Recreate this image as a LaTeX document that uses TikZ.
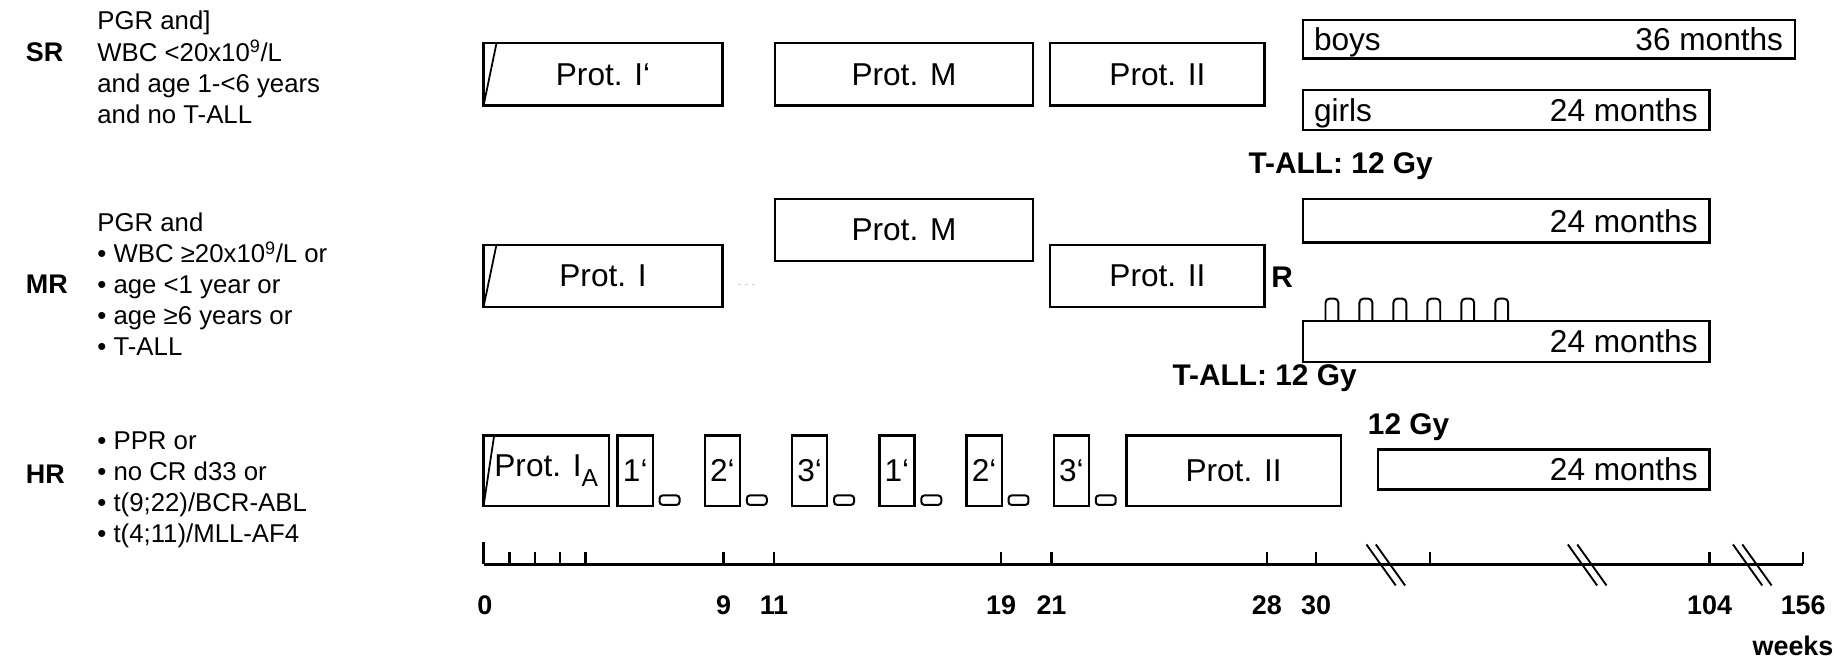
\documentclass[tikz,border=0pt]{standalone}
\usepackage{fontspec}
\setmainfont{Liberation Sans}
\usetikzlibrary{positioning}

\tikzset{
  protbox/.style={draw, line width=2pt, inner sep=0pt, outer sep=0pt, font=\fontsize{27}{30}\selectfont},
  durlab/.style={inner sep=0pt, text height=19.5pt, text depth=0pt, font=\fontsize{27}{30}\selectfont},
  pill/.style={draw, line width=1.7pt, rounded corners=2.5pt, minimum width=17pt, minimum height=8pt, inner sep=0pt},
  crit/.style={align=left, anchor=west, inner sep=0pt, font=\fontsize{22}{26.5}\selectfont},
  risk/.style={anchor=west, inner sep=0pt, font=\fontsize{23}{26}\selectfont\bfseries},
  dose/.style={inner sep=0pt, font=\fontsize{25.5}{28}\selectfont\bfseries},
  wk/.style={inner sep=0pt, font=\fontsize{23}{26}\selectfont\bfseries},
  axis/.style={line width=2pt},
}

\begin{document}
\begin{tikzpicture}[x=1pt, y=-1pt]
    \useasboundingbox (0,0) rectangle (1568,568);

    % Risk groups
    \node[risk] (sr) at (22,45) {SR};
    \node[crit] (srtext) at (83,57.5) {PGR and]\\WBC <20x10\textsuperscript{9}/L\\and age 1-<6 years\\and no T-ALL};
    \node[risk] (mr) at (22,243) {MR};
    \node[crit] (mrtext) at (83,243) {PGR and\\\textbullet\ WBC ≥20x10\textsuperscript{9}/L or\\\textbullet\ age <1 year or\\\textbullet\ age ≥6 years or\\\textbullet\ T-ALL};
    \node[risk] (hr) at (22,405) {HR};
    \node[crit] (hrtext) at (83,418) {\textbullet\ PPR or\\\textbullet\ no CR d33 or\\\textbullet\ t(9;22)/BCR-ABL\\\textbullet\ t(4;11)/MLL-AF4};

    % SR arm
    \node[protbox, minimum width=204pt, minimum height=53pt] (srI) at (515,63.5) {Prot. I‘};
    \node[protbox, minimum width=220pt, minimum height=53pt] (srM) at (772,63.5) {Prot. M};
    \node[protbox, minimum width=183pt, minimum height=53pt] (srII) at (988.5,63.5) {Prot. II};
    \node[protbox, minimum width=420pt, minimum height=33pt] (boys) at (1323,33.5) {};
    \node[durlab, anchor=west] (boyslab) at ([xshift=9pt]boys.west) {boys};
    \node[durlab, anchor=east] (boysdur) at ([xshift=-10pt]boys.east) {36 months};
    \node[protbox, minimum width=347pt, minimum height=34pt] (girls) at (1286.5,94) {};
    \node[durlab, anchor=west] (girlslab) at ([xshift=9pt]girls.west) {girls};
    \node[durlab, anchor=east] (girlsdur) at ([xshift=-10pt]girls.east) {24 months};
    \node[dose] (srrt) at (1145,142) {T-ALL: 12 Gy};

    % MR arm
    \node[protbox, minimum width=220pt, minimum height=53pt] (mrM) at (772,196.5) {Prot. M};
    \node[protbox, minimum width=204pt, minimum height=53pt] (mrI) at (515,235.5) {Prot. I};
    \node[protbox, minimum width=183pt, minimum height=53pt] (mrII) at (988.5,235.5) {Prot. II};
    \node[dose] (rand) at (1095,237) {R};
    \node[protbox, minimum width=347pt, minimum height=37pt] (mrA) at (1286.5,188.5) {};
    \node[durlab, anchor=east] (mrAdur) at ([xshift=-10pt]mrA.east) {24 months};
    \node[protbox, minimum width=347pt, minimum height=35pt] (mrB) at (1286.5,291.5) {};
    \node[durlab, anchor=east] (mrBdur) at ([xshift=-10pt]mrB.east) {24 months};
    \node[dose] (mrrt) at (1080,323) {T-ALL: 12 Gy};

    % HR arm
    \node[protbox, minimum width=107pt, minimum height=60pt] (hrI) at (466.5,402) {Prot. I\raisebox{-0.3em}{\fontsize{21}{21}\selectfont A}};
    \foreach \b [count=\i from 0] in {1,2,3,1,2,3} {
        \node[protbox, minimum width=30pt, minimum height=60pt] (hrb\i) at (542.5+74.5*\i,402) {\b‘};
        \node[pill, anchor=south west] (hrp\i) at ([xshift=5pt]hrb\i.south east) {};
    }
    \node[protbox, minimum width=183pt, minimum height=60pt] (hrII) at (1053.5,402) {Prot. II};
    \node[dose] (hrrt) at (1203,365) {12 Gy};
    \node[protbox, minimum width=283pt, minimum height=34pt] (hrC) at (1318.5,401) {};
    \node[durlab, anchor=east] (hrCdur) at ([xshift=-10pt]hrC.east) {24 months};

    % Lines
    \draw[line width=1.5pt] ([xshift=11pt]srI.north west) -- (srI.south west);
    \draw[line width=1.5pt] ([xshift=11pt]mrI.north west) -- (mrI.south west);
    \draw[line width=1.5pt] ([xshift=9pt]hrI.north west) -- (hrI.south west);
    \draw[gray!40, dashed, line width=0.8pt] (630,243) -- (648,243);
    \foreach \i in {0,...,5}
        \draw[line width=1.7pt, rounded corners=3.5pt] ([xshift={(19+29*\i)*1pt}]mrB.north west) -- ++(0,-19) -- ++(11,0) -- ++(0,19);

    % Time axis
    \coordinate (ax0) at (413,482);
    \coordinate (ax1) at (1540,482);
    \draw[axis] (ax0) -- (ax1);
    \draw[axis] (ax0) -- ++(0,-19);
    \node[wk] (w0) at (414,517) {0};
    \foreach \x in {435,457,478,500,1221}
        \draw[axis] (\x,482) -- ++(0,-11);
    \foreach \x/\w in {618/9, 661/11, 855/19, 898/21, 1082/28, 1124/30, 1460/104, 1540/156} {
        \draw[axis] (\x,482) -- ++(0,-11);
        \node[wk] (w\w) at (\x,517) {\w};
    }
    \foreach \x in {1184,1356,1497} {
        \draw[line width=1.6pt] (\x-17,465) -- (\x+8,500);
        \draw[line width=1.6pt] (\x-9,465) -- (\x+16,500);
    }
    \node[wk, anchor=east] (weeks) at (1566,552) {weeks};
\end{tikzpicture}
\end{document}
